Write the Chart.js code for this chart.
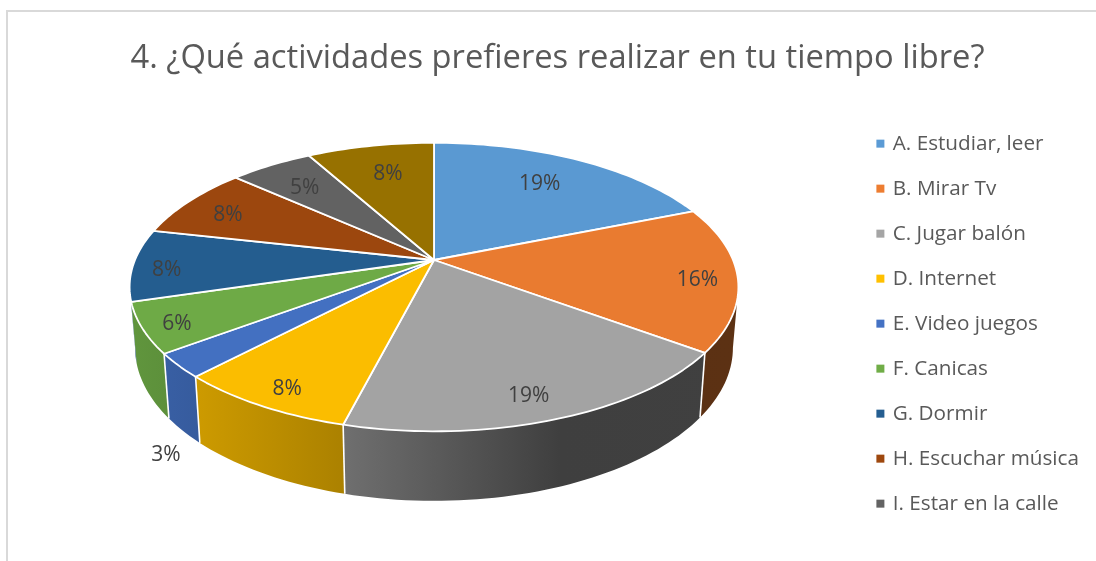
<!DOCTYPE html>
<html>
<head>
<meta charset="utf-8">
<title>Actividades en tiempo libre</title>
<script src="https://cdn.jsdelivr.net/npm/chart.js@4/dist/chart.umd.min.js"></script>
<style>
  html, body { margin: 0; padding: 0; background: #fff; overflow: hidden; }
  #wrap { position: relative; width: 1096px; height: 561px; overflow: hidden; }
  #frame { position: absolute; left: 6px; top: 10px; width: 1200px; height: 700px; border: 2px solid #d9d9d9; }
  #graph { position: absolute; left: 0; top: 0; display: block; }
</style>
</head>
<body>
<div id="wrap">
  <div id="frame"></div>
  <canvas id="graph" width="1096" height="561"></canvas>
</div>
<script>
var titleText = "4. ¿Qué actividades prefieres realizar en tu tiempo libre?";
var categories = ["A. Estudiar, leer", "B. Mirar Tv", "C. Jugar balón", "D. Internet", "E. Video juegos",
                  "F. Canicas", "G. Dormir", "H. Escuchar música", "I. Estar en la calle", "J."];
var percents = [18.9, 16.2, 18.9, 8.1, 2.7, 5.6, 8.1, 8.1, 5.3, 8.1];
var barColors = ["#5b9bd5", "#ed7d31", "#a5a5a5", "#ffc000", "#4472c4",
                 "#70ad47", "#255e91", "#9e480e", "#636363", "#997300"];
var legendCount = 9;

// look of the tilted pie
var tilt = 0.1875, squash = 0.4655, drop = 59 / 299, baseScale = 0.982;
var center = { x: 434, y: 260 }, radius = 299;
var labelReach = [0.70, 0.87, 0.81, 0.87, 1.06, 0.89, 0.89, 0.83, 0.77, 0.69];
var labelDrop = [-0.11, 0.03, 0.13, 0.04, 1.19, 0.015, 0.05, 0.015, 0, -0.13];
var legendShift = 109;

function project(arc, angle, reach, level) {
  var u = Math.cos(angle) * reach, v = Math.sin(angle) * reach;
  var w = 1 - tilt * v;
  var scale = 1 - (1 - baseScale) * Math.min(Math.max(level, 0), 1);
  return {
    x: arc.x + arc.outerRadius * scale * u / w,
    y: arc.y + arc.outerRadius * (squash * scale * v + drop * level) / w
  };
}

function shade(hex, k) {
  var n = parseInt(hex.slice(1), 16);
  return "rgb(" + Math.round((n >> 16) * k) + "," + Math.round(((n >> 8) & 255) * k) + "," + Math.round((n & 255) * k) + ")";
}

function wallFill(ctx, hex, arc) {
  var g = ctx.createLinearGradient(arc.x - arc.outerRadius, 0, arc.x + arc.outerRadius, 0);
  g.addColorStop(0, shade(hex, 0.86));
  g.addColorStop(0.35, shade(hex, 0.67));
  g.addColorStop(0.71, shade(hex, 0.38));
  g.addColorStop(1, shade(hex, 0.39));
  return g;
}

function rim(ctx, arc, a0, a1, level, first) {
  var steps = Math.max(2, Math.ceil(Math.abs(a1 - a0) * 40));
  for (var i = 0; i <= steps; i++) {
    var p = project(arc, a0 + (a1 - a0) * i / steps, 1, level);
    if (i === 0 && first) ctx.moveTo(p.x, p.y); else ctx.lineTo(p.x, p.y);
  }
}

var tiltedPie = {
  id: "tiltedPie",
  afterLayout: function (chart) {
    var area = chart.chartArea;
    area.left = center.x - radius; area.right = center.x + radius;
    area.top = center.y - radius; area.bottom = center.y + radius;
    area.width = radius * 2; area.height = radius * 2;
    chart.legend.top += legendShift;
    chart.legend.bottom += legendShift;
  },
  beforeDatasetDraw: function (chart) {
    var ctx = chart.ctx, arcs = chart.getDatasetMeta(0).data;
    var front0 = Math.asin(tilt), front1 = Math.PI - front0;
    ctx.save();
    ctx.lineJoin = "round";

    // side walls first, only the part facing the viewer
    arcs.forEach(function (arc, i) {
      var a0 = Math.max(arc.startAngle, front0), a1 = Math.min(arc.endAngle, front1);
      if (a1 <= a0) return;
      ctx.beginPath();
      rim(ctx, arc, a0, a1, 0, true);
      rim(ctx, arc, a1, a0, 1, false);
      ctx.closePath();
      ctx.fillStyle = wallFill(ctx, barColors[i], arc);
      ctx.fill();
    });
    arcs.forEach(function (arc) {
      if (arc.startAngle <= front0 || arc.startAngle >= front1 - 0.15) return;
      var t = project(arc, arc.startAngle, 1, 0), b = project(arc, arc.startAngle, 1, 1);
      ctx.beginPath();
      ctx.moveTo(t.x, t.y);
      ctx.lineTo(b.x, b.y);
      ctx.strokeStyle = "#fff";
      ctx.lineWidth = 1.6;
      ctx.stroke();
    });

    // top face
    arcs.forEach(function (arc, i) {
      ctx.beginPath();
      ctx.moveTo(arc.x, arc.y);
      rim(ctx, arc, arc.startAngle, arc.endAngle, 0, false);
      ctx.closePath();
      ctx.fillStyle = shade(barColors[i], 0.985);
      ctx.fill();
      ctx.strokeStyle = "#fff";
      ctx.lineWidth = 1.8;
      ctx.stroke();
    });

    // percentage labels
    var total = percents.reduce(function (a, b) { return a + b; }, 0);
    ctx.font = "21px 'Open Sans'";
    ctx.fillStyle = "#404040";
    ctx.textAlign = "center";
    ctx.textBaseline = "middle";
    arcs.forEach(function (arc, i) {
      var p = project(arc, (arc.startAngle + arc.endAngle) / 2, labelReach[i], labelDrop[i]);
      ctx.fillText(Math.round(percents[i] / total * 100) + "%", p.x, p.y + 3);
    });
    ctx.restore();
    return false;
  }
};

new Chart("graph", {
  type: "pie",
  data: {
    labels: categories,
    datasets: [{ backgroundColor: barColors, data: percents, borderWidth: 0 }]
  },
  plugins: [tiltedPie],
  options: {
    responsive: false,
    animation: false,
    layout: { padding: { left: 26, right: 7 } },
    plugins: {
      tooltip: { enabled: false },
      title: {
        display: true,
        text: titleText,
        color: "#595959",
        font: { family: "'Open Sans'", size: 32.7, weight: "normal" },
        padding: { top: 39, bottom: 10 }
      },
      legend: {
        position: "right",
        align: "start",
        labels: {
          boxWidth: 4,
          boxHeight: 4,
          padding: 24.3,
          color: "#595959",
          font: { family: "'Open Sans'", size: 20.7 },
          generateLabels: function (chart) {
            // small box plus same coloured outline keeps the text close to the marker
            return Chart.overrides.pie.plugins.legend.labels.generateLabels(chart).map(function (item) {
              item.lineWidth = 4;
              item.strokeStyle = item.fillStyle;
              return item;
            });
          },
          filter: function (item) { return item.index < legendCount; }
        }
      }
    }
  }
});
</script>
</body>
</html>
